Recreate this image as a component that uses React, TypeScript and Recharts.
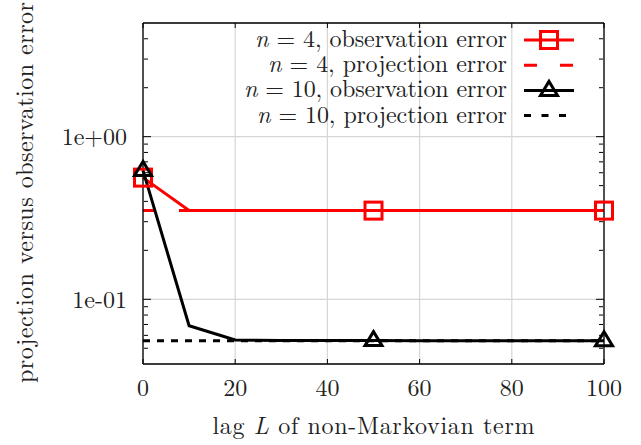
import React from "react";
import { LineChart, Line, XAxis, YAxis, CartesianGrid, Legend } from "recharts";

// lag L of the non-Markovian term
const lags = [0, 10, 20, 30, 40, 50, 60, 70, 80, 90, 100];
const n4Observation = [0.56, 0.352, 0.351, 0.351, 0.351, 0.351, 0.351, 0.351, 0.351, 0.351, 0.351];
const n4Projection = [0.351, 0.351, 0.351, 0.351, 0.351, 0.351, 0.351, 0.351, 0.351, 0.351, 0.351];
const n10Observation = [0.62, 0.0687, 0.0562, 0.0558, 0.0557, 0.0557, 0.0556, 0.0556, 0.0556, 0.0556, 0.0556];
const n10Projection = [0.0555, 0.0555, 0.0555, 0.0555, 0.0555, 0.0555, 0.0555, 0.0555, 0.0555, 0.0555, 0.0555];

const xTicks = [0, 20, 40, 60, 80, 100];
const yMajorTicks = [0.1, 1];
const yTickLabels = ["1e-01", "1e+00"];
const yMinorTicks = [0.05, 0.06, 0.07, 0.08, 0.09, 0.2, 0.3, 0.4, 0.5, 0.6, 0.7, 0.8, 0.9, 2, 3, 4];
const markerLags = [0, 50, 100];

const legendItems = [
  { n: "4", text: "observation error", kind: "square", width: 252 },
  { n: "4", text: "projection error", kind: "dash", width: 239 },
  { n: "10", text: "observation error", kind: "triangle", width: 263 },
  { n: "10", text: "projection error", kind: "dot", width: 250 },
];

const rows = lags.map((lag, i) => ({
  lag,
  n4Observation: n4Observation[i],
  n4Projection: n4Projection[i],
  n10Observation: n10Observation[i],
  n10Projection: n10Projection[i],
}));

const FONT = '"Latin Modern Roman", "Liberation Serif", serif';
const RED = "#ff0000";
const INK = "#222";
const FS = 24;
const Y_DOMAIN = [0.04, 5];
const blank = () => "";

const SquareDot = (props: any) => {
  const { cx, cy, payload, index } = props;
  if (!markerLags.includes(payload.lag)) return <g key={index} />;
  return <rect key={index} x={cx - 8.5} y={cy - 8.5} width={17} height={17} fill="none" stroke={RED} strokeWidth={3} />;
};

const TriangleDot = (props: any) => {
  const { cx, cy, payload, index } = props;
  if (!markerLags.includes(payload.lag)) return <g key={index} />;
  return (
    <polygon
      key={index}
      points={`${cx},${cy - 9} ${cx - 8.5},${cy + 5} ${cx + 8.5},${cy + 5}`}
      fill="none"
      stroke="#000"
      strokeWidth={3}
    />
  );
};

function LegendBox() {
  const x0 = 524, x1 = 574, textEnd = 507;
  return (
    <svg width={641} height={130} style={{ display: "block" }}>
      {legendItems.map((it, i) => {
        const y = 40 + i * 25.2;
        const mid = (x0 + x1) / 2;
        return (
          <g key={i}>
            <text x={textEnd} y={y + 7} textAnchor="end" style={{ fontFamily: FONT }} fontSize={FS} fill={INK}
              textLength={it.width} lengthAdjust="spacing">
              <tspan fontStyle="italic">n</tspan> = {it.n}, {it.text}
            </text>
            {it.kind === "square" && (
              <g>
                <line x1={x0} x2={x1} y1={y} y2={y} stroke={RED} strokeWidth={3} />
                <rect x={mid - 8.5} y={y - 8.5} width={17} height={17} fill="none" stroke={RED} strokeWidth={3} />
              </g>
            )}
            {it.kind === "dash" && (
              <line x1={x0} x2={x1} y1={y} y2={y} stroke={RED} strokeWidth={3} strokeDasharray="13 23" />
            )}
            {it.kind === "triangle" && (
              <g>
                <line x1={x0} x2={x1} y1={y} y2={y} stroke="#000" strokeWidth={3} />
                <polygon points={`${mid},${y - 9} ${mid - 8.5},${y + 5} ${mid + 8.5},${y + 5}`} fill="none" stroke="#000" strokeWidth={3} />
              </g>
            )}
            {it.kind === "dot" && (
              <line x1={x0} x2={x1 - 8} y1={y} y2={y} stroke="#000" strokeWidth={3} strokeDasharray="7 10.5" />
            )}
          </g>
        );
      })}
    </svg>
  );
}

export default function App() {
  return (
    <div style={{ position: "absolute", left: 0, top: 0, width: 641, height: 445, background: "#fff", fontFamily: FONT }}>
      <LineChart width={641} height={445} data={rows} margin={{ top: 23, right: 37, bottom: 0, left: 0 }}
        style={{ fontFamily: FONT }}>
        <CartesianGrid stroke="#d6d6d6" strokeWidth={1.2} />
        <XAxis
          dataKey="lag" type="number" domain={[0, 100]} ticks={xTicks} height={81}
          tickLine={false} tickSize={0} tickMargin={15} axisLine={{ stroke: "#000", strokeWidth: 1.3 }}
          tick={{ fontSize: FS, fill: INK, style: { fontFamily: FONT } }}
          label={{
            content: ({ viewBox }: any) => (
              <text x={viewBox.x + viewBox.width / 2} y={viewBox.y + 70} textAnchor="middle" style={{ fontFamily: FONT }}
                fontSize={FS} fill={INK} textLength={322} lengthAdjust="spacing">
                lag <tspan fontStyle="italic">L</tspan> of non-Markovian term
              </text>
            ),
          }}
        />
        <XAxis xAxisId="top" dataKey="lag" type="number" domain={[0, 100]} ticks={xTicks} orientation="top" mirror
          tick={{ fill: "none" }} tickFormatter={blank} tickSize={5} height={1} stroke="#000"
          tickLine={{ stroke: "#000" }} axisLine={{ stroke: "#000", strokeWidth: 1.3 }} />
        <XAxis xAxisId="bottom" dataKey="lag" type="number" domain={[0, 100]} ticks={xTicks} orientation="bottom" mirror
          tick={{ fill: "none" }} tickFormatter={blank} tickSize={5} height={1} stroke="#000"
          tickLine={{ stroke: "#000" }} axisLine={false} />
        <YAxis
          type="number" scale="log" domain={Y_DOMAIN} allowDataOverflow ticks={yMajorTicks} width={143}
          tickLine={false} tickSize={0} tickMargin={16} axisLine={{ stroke: "#000", strokeWidth: 1.3 }}
          tickFormatter={(v: number) => yTickLabels[yMajorTicks.indexOf(v)]}
          tick={{ fontSize: FS, fill: INK, style: { fontFamily: FONT } }}
          label={{
            content: ({ viewBox }: any) => {
              const cy = viewBox.y + viewBox.height / 2 - 1;
              return (
                <text x={32.5} y={cy} textAnchor="middle" style={{ fontFamily: FONT }} fontSize={FS} fill={INK}
                  textLength={381} lengthAdjust="spacing" transform={`rotate(-90, 32.5, ${cy})`}>
                  projection versus observation error
                </text>
              );
            },
          }}
        />
        <YAxis yAxisId="minorL" type="number" scale="log" domain={Y_DOMAIN} allowDataOverflow ticks={yMinorTicks}
          orientation="left" mirror tick={{ fill: "none" }} tickFormatter={blank} tickSize={4} width={1} stroke="#000"
          tickLine={{ stroke: "#000" }} axisLine={false} />
        <YAxis yAxisId="majorL" type="number" scale="log" domain={Y_DOMAIN} allowDataOverflow ticks={yMajorTicks}
          orientation="left" mirror tick={{ fill: "none" }} tickFormatter={blank} tickSize={8} width={1} stroke="#000"
          tickLine={{ stroke: "#000" }} axisLine={false} />
        <YAxis yAxisId="minorR" type="number" scale="log" domain={Y_DOMAIN} allowDataOverflow ticks={yMinorTicks}
          orientation="right" mirror tick={{ fill: "none" }} tickFormatter={blank} tickSize={4} width={1} stroke="#000"
          tickLine={{ stroke: "#000" }} axisLine={false} />
        <YAxis yAxisId="majorR" type="number" scale="log" domain={Y_DOMAIN} allowDataOverflow ticks={yMajorTicks}
          orientation="right" mirror tick={{ fill: "none" }} tickFormatter={blank} tickSize={8} width={1} stroke="#000"
          tickLine={{ stroke: "#000" }} axisLine={{ stroke: "#000", strokeWidth: 1.3 }} />
        <Legend verticalAlign="middle" align="center" layout="horizontal"
          wrapperStyle={{ top: 0, left: 0, width: 641, height: 130 }} content={() => <LegendBox />} />
        <Line dataKey="n4Observation" stroke={RED} strokeWidth={3} dot={SquareDot} activeDot={false}
          isAnimationActive={false} />
        <Line dataKey="n4Projection" stroke={RED} strokeWidth={3} strokeDasharray="13 23" dot={false} activeDot={false}
          isAnimationActive={false} />
        <Line dataKey="n10Observation" stroke="#000" strokeWidth={3} dot={TriangleDot} activeDot={false}
          isAnimationActive={false} />
        <Line dataKey="n10Projection" stroke="#000" strokeWidth={3} strokeDasharray="7 7" dot={false} activeDot={false}
          isAnimationActive={false} />
      </LineChart>
    </div>
  );
}
